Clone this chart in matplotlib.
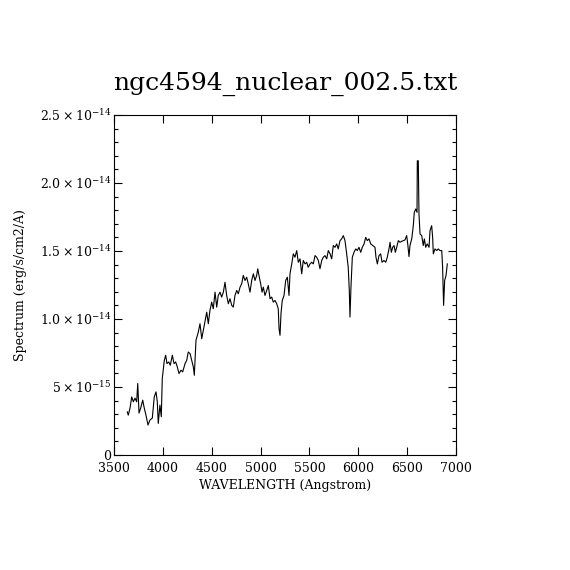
import numpy as np
import matplotlib
matplotlib.use('Agg')
import matplotlib.pyplot as plt

# spectrum (wavelength in Angstrom, flux in 1e-15 erg/s/cm2/A)
wave = [3636, 3646, 3664, 3681, 3698, 3715, 3732, 3743, 3756, 3773,
        3794, 3807, 3827, 3848, 3868, 3892, 3912, 3930, 3943, 3953,
        3970, 3984, 3994, 4015, 4029, 4042, 4060, 4076, 4097, 4114,
        4131, 4148, 4165, 4186, 4203, 4227, 4244, 4260, 4278, 4291,
        4312, 4322, 4339, 4363, 4380, 4398, 4414, 4431, 4449, 4465,
        4482, 4500, 4516, 4534, 4551, 4567, 4585, 4602, 4619, 4636,
        4653, 4670, 4687, 4705, 4721, 4738, 4756, 4772, 4790, 4807,
        4823, 4841, 4858, 4874, 4892, 4909, 4926, 4943, 4960, 4971,
        4987, 5001, 5015, 5028, 5045, 5063, 5079, 5097, 5114, 5130,
        5148, 5165, 5181, 5189, 5199, 5209, 5222, 5240, 5257, 5274,
        5291, 5301, 5319, 5335, 5352, 5370, 5386, 5404, 5421, 5437,
        5455, 5472, 5488, 5506, 5523, 5540, 5557, 5574, 5591, 5608,
        5626, 5642, 5659, 5677, 5693, 5711, 5728, 5744, 5762, 5779,
        5795, 5813, 5830, 5847, 5864, 5881, 5897, 5908, 5915, 5925,
        5939, 5956, 5974, 5990, 6007, 6025, 6041, 6059, 6076, 6092,
        6110, 6127, 6148, 6171, 6181, 6195, 6212, 6229, 6243, 6263,
        6281, 6297, 6314, 6325, 6338, 6352, 6366, 6379, 6393, 6410,
        6427, 6444, 6461, 6478, 6495, 6506, 6519, 6529, 6547, 6563,
        6573, 6588, 6601, 6604, 6614, 6621, 6632, 6649, 6665, 6676,
        6690, 6706, 6724, 6734, 6751, 6761, 6768, 6785, 6803, 6819,
        6836, 6854, 6863, 6873, 6884, 6898, 6911]
flux = [3.17, 2.93, 3.45, 4.27, 3.91, 4.18, 3.91, 5.26, 3.08, 3.45,
        4.03, 3.54, 2.93, 2.20, 2.57, 2.71, 4.27, 4.64, 3.91, 2.32,
        3.67, 2.81, 5.62, 6.96, 7.33, 6.72, 6.84, 6.60, 7.33, 6.72,
        6.84, 6.47, 5.99, 6.23, 6.11, 6.72, 6.96, 7.57, 7.46, 7.09,
        6.47, 5.86, 8.43, 9.04, 9.65, 8.55, 9.16, 9.77, 10.50, 9.65,
        10.63, 11.24, 10.75, 11.97, 10.87, 11.73, 11.97, 11.61, 11.97, 12.70,
        11.73, 11.12, 11.49, 11.00, 10.87, 11.73, 12.10, 11.85, 12.34, 12.59,
        13.20, 12.83, 13.07, 12.59, 11.97, 12.83, 13.32, 12.83, 13.20, 13.69,
        13.07, 12.59, 11.97, 12.34, 11.73, 12.10, 12.46, 11.49, 11.61, 11.24,
        11.36, 11.12, 10.75, 9.29, 8.80, 10.39, 11.36, 11.73, 12.83, 13.07,
        11.73, 13.32, 14.05, 14.79, 14.54, 15.03, 14.17, 14.42, 13.32, 14.30,
        14.05, 14.17, 13.80, 14.05, 14.17, 14.05, 14.66, 14.54, 14.30, 13.69,
        14.30, 14.54, 14.66, 14.42, 15.03, 14.79, 14.42, 15.40, 15.27, 15.52,
        15.15, 15.76, 15.89, 16.13, 15.76, 14.79, 13.80, 12.10, 10.14, 12.34,
        14.54, 14.90, 15.15, 15.03, 15.27, 14.90, 15.27, 15.52, 16.00, 15.76,
        15.89, 15.52, 15.40, 15.27, 14.54, 14.05, 14.66, 14.79, 14.17, 14.30,
        14.17, 14.54, 15.15, 15.64, 14.90, 15.27, 15.40, 14.90, 15.27, 15.76,
        15.64, 15.71, 15.76, 15.81, 16.13, 15.52, 14.59, 15.40, 15.89, 16.86,
        17.84, 18.09, 17.84, 21.63, 21.63, 17.72, 16.25, 16.13, 15.40, 15.89,
        15.27, 15.52, 15.27, 16.49, 16.86, 16.00, 14.79, 15.15, 15.03, 15.15,
        15.03, 15.03, 13.80, 11.00, 12.83, 13.20, 14.05]

yticks = [0, 5e-15, 1.0e-14, 1.5e-14, 2.0e-14, 2.5e-14]
ytick_labels = ['0', r'$5\times10^{-15}$', r'$1.0\times10^{-14}$', r'$1.5\times10^{-14}$',
                r'$2.0\times10^{-14}$', r'$2.5\times10^{-14}$']
xticks = [3500, 4000, 4500, 5000, 5500, 6000, 6500, 7000]

plt.rcParams['font.family'] = ['DejaVu Serif']
plt.rcParams['mathtext.fontset'] = 'dejavuserif'

fig = plt.figure(figsize=(5.7, 5.7), dpi=100, facecolor='w')
ax = fig.add_axes([0.2, 0.2018, 0.6, 0.5965])
ax.plot(wave, np.array(flux) * 1e-15, color='k', lw=0.8)

ax.set_xlim(3500, 7000)
ax.set_ylim(0, 2.5e-14)
ax.set_xticks(xticks)
ax.set_xticklabels([str(t) for t in xticks], fontsize=9)
ax.set_yticks(yticks)
ax.set_yticklabels(ytick_labels, fontsize=9)
ax.set_yticks(np.arange(0, 2.5e-14, 1e-15), minor=True)
ax.tick_params(which='both', direction='in', top=True, right=True)
ax.tick_params(axis='y', pad=2)
ax.tick_params(axis='x', pad=5)
ax.tick_params(which='major', length=6, width=0.8)
ax.tick_params(which='minor', length=3, width=0.8)
for s in ax.spines.values():
    s.set_linewidth(0.8)

ax.set_xlabel('WAVELENGTH (Angstrom)', fontsize=9, labelpad=3)
ax.set_ylabel('Spectrum (erg/s/cm2/A)', fontsize=9, labelpad=9)
ax.set_title('ngc4594_nuclear_002.5.txt', fontsize=18, pad=18)

fig.savefig('out.png', dpi=100)
